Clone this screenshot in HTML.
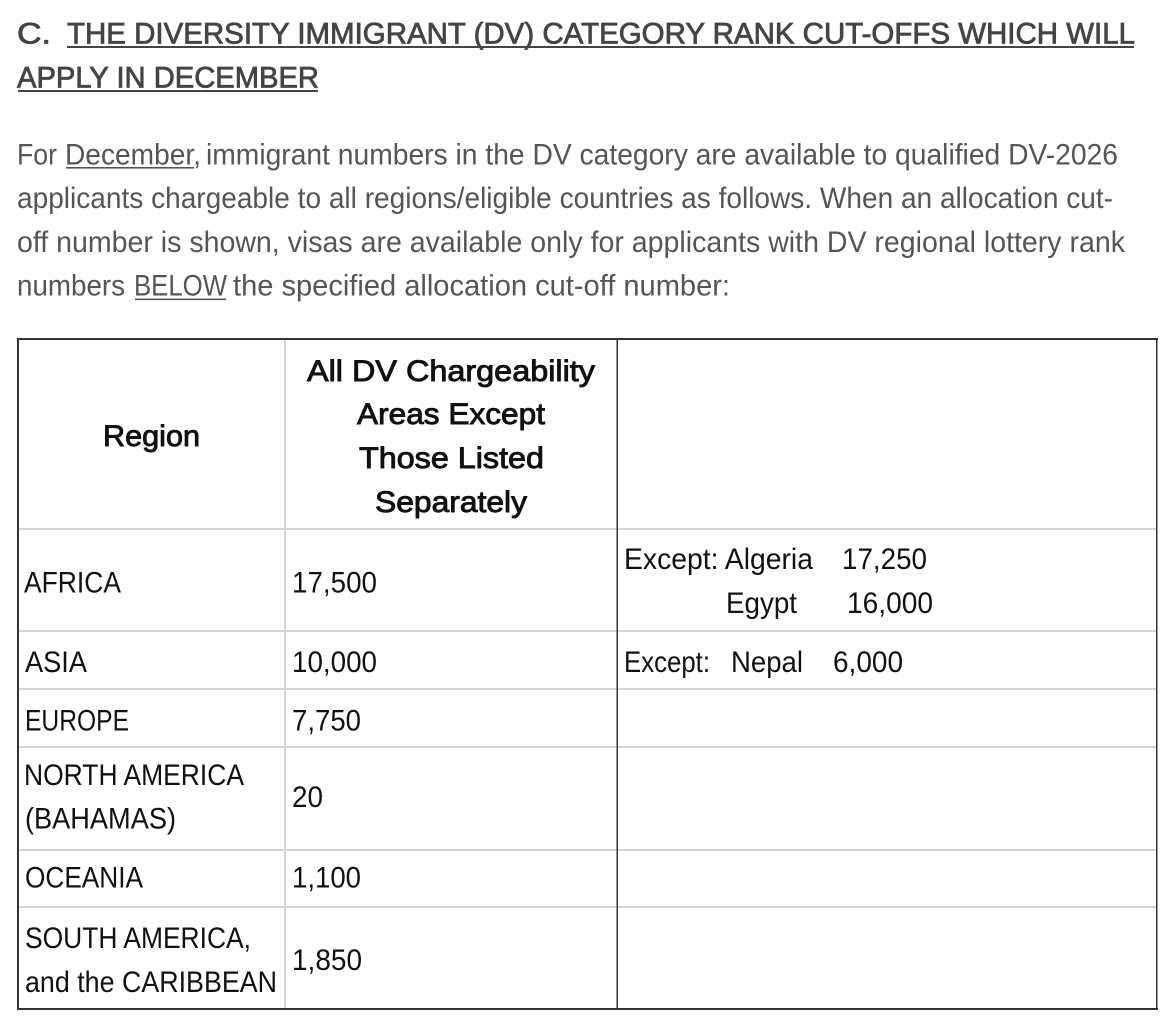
<!DOCTYPE html>
<html>
<head>
<meta charset="utf-8">
<style>
  html,body{margin:0;padding:0;background:#fff;}
  svg{display:block;}
  text{font-family:"Liberation Sans", Arial, sans-serif;}
</style>
</head>
<body>
<svg width="1174" height="1028" viewBox="0 0 1174 1028" xmlns="http://www.w3.org/2000/svg">
  <rect x="0" y="0" width="1174" height="1028" fill="#fff"/>

  <!-- Title -->
  <g fill="#444" stroke="#444" stroke-width="0.8" font-size="30">
    <text x="17" y="43.5" textLength="34" lengthAdjust="spacingAndGlyphs">C.</text>
    <text x="67" y="43.5" textLength="1068" lengthAdjust="spacingAndGlyphs">THE DIVERSITY IMMIGRANT (DV) CATEGORY RANK CUT-OFFS WHICH WILL</text>
    <text x="17" y="87.5" textLength="302" lengthAdjust="spacingAndGlyphs">APPLY IN DECEMBER</text>
  </g>
  <rect x="67" y="46" width="1067" height="2" fill="#444"/>
  <rect x="18" y="90" width="300" height="2" fill="#444"/>

  <!-- Paragraph -->
  <g fill="#555" font-size="30">
    <text x="17" y="164.5" textLength="40" lengthAdjust="spacingAndGlyphs">For</text>
    <text x="65" y="164.5" textLength="136" lengthAdjust="spacingAndGlyphs">December,</text>
    <text x="206" y="164.5" textLength="912" lengthAdjust="spacingAndGlyphs">immigrant numbers in the DV category are available to qualified DV-2026</text>
    <text x="17" y="208" textLength="1096" lengthAdjust="spacingAndGlyphs">applicants chargeable to all regions/eligible countries as follows. When an allocation cut-</text>
    <text x="17" y="252" textLength="1108" lengthAdjust="spacingAndGlyphs">off number is shown, visas are available only for applicants with DV regional lottery rank</text>
    <text x="17" y="295.5" textLength="108" lengthAdjust="spacingAndGlyphs">numbers</text>
    <text x="134" y="295.5" textLength="93" lengthAdjust="spacingAndGlyphs">BELOW</text>
    <text x="233" y="295.5" textLength="497" lengthAdjust="spacingAndGlyphs">the specified allocation cut-off number:</text>
  </g>
  <rect x="66" y="167" width="128" height="1.6" fill="#555"/>
  <rect x="135" y="298.5" width="91" height="1.6" fill="#555"/>

  <!-- Table light grid lines -->
  <g fill="#d4d4d4">
    <rect x="284" y="339" width="2" height="670"/>
    <rect x="18" y="528" width="1139" height="2"/>
    <rect x="18" y="630" width="1139" height="2"/>
    <rect x="18" y="688" width="1139" height="2"/>
    <rect x="18" y="746" width="1139" height="2"/>
    <rect x="18" y="849" width="1139" height="2"/>
    <rect x="18" y="906" width="1139" height="2"/>
  </g>
  <!-- Table dark lines -->
  <g fill="#333">
    <rect x="17" y="338" width="1141" height="2"/>
    <rect x="17" y="1008" width="1141" height="2"/>
    <rect x="17" y="338" width="2" height="672"/>
    <rect x="1156" y="338" width="1.5" height="672"/>
    <rect x="616.5" y="339" width="1.5" height="670"/>
  </g>

  <!-- Header -->
  <g fill="#111" stroke="#111" stroke-width="0.9" font-size="30">
    <text x="103" y="446" textLength="97" lengthAdjust="spacingAndGlyphs">Region</text>
    <text x="307" y="381" textLength="288" lengthAdjust="spacingAndGlyphs">All DV Chargeability</text>
    <text x="357" y="424" textLength="188" lengthAdjust="spacingAndGlyphs">Areas Except</text>
    <text x="359" y="468" textLength="185" lengthAdjust="spacingAndGlyphs">Those Listed</text>
    <text x="375" y="512" textLength="152" lengthAdjust="spacingAndGlyphs">Separately</text>
  </g>

  <!-- Body -->
  <g fill="#111" font-size="30">
    <text x="24" y="592.5" textLength="97" lengthAdjust="spacingAndGlyphs">AFRICA</text>
    <text x="292" y="592.5" textLength="85" lengthAdjust="spacingAndGlyphs">17,500</text>
    <text x="624" y="569" textLength="189" lengthAdjust="spacingAndGlyphs">Except: Algeria</text>
    <text x="842" y="569" textLength="85" lengthAdjust="spacingAndGlyphs">17,250</text>
    <text x="726" y="613" textLength="71" lengthAdjust="spacingAndGlyphs">Egypt</text>
    <text x="847" y="613" textLength="86" lengthAdjust="spacingAndGlyphs">16,000</text>

    <text x="25" y="672" textLength="62" lengthAdjust="spacingAndGlyphs">ASIA</text>
    <text x="292" y="672" textLength="85" lengthAdjust="spacingAndGlyphs">10,000</text>
    <text x="624" y="672" textLength="86" lengthAdjust="spacingAndGlyphs">Except:</text>
    <text x="731" y="672" textLength="72" lengthAdjust="spacingAndGlyphs">Nepal</text>
    <text x="833" y="672" textLength="70" lengthAdjust="spacingAndGlyphs">6,000</text>

    <text x="25" y="730.5" textLength="104" lengthAdjust="spacingAndGlyphs">EUROPE</text>
    <text x="292" y="730.5" textLength="69" lengthAdjust="spacingAndGlyphs">7,750</text>

    <text x="24" y="785" textLength="220" lengthAdjust="spacingAndGlyphs">NORTH AMERICA</text>
    <text x="25" y="828.5" textLength="151" lengthAdjust="spacingAndGlyphs">(BAHAMAS)</text>
    <text x="292" y="807" textLength="31" lengthAdjust="spacingAndGlyphs">20</text>

    <text x="25" y="887.5" textLength="118" lengthAdjust="spacingAndGlyphs">OCEANIA</text>
    <text x="292" y="887.5" textLength="69" lengthAdjust="spacingAndGlyphs">1,100</text>

    <text x="25" y="948" textLength="226" lengthAdjust="spacingAndGlyphs">SOUTH AMERICA,</text>
    <text x="25" y="992" textLength="252" lengthAdjust="spacingAndGlyphs">and the CARIBBEAN</text>
    <text x="292" y="970" textLength="70" lengthAdjust="spacingAndGlyphs">1,850</text>
  </g>
</svg>
</body>
</html>
